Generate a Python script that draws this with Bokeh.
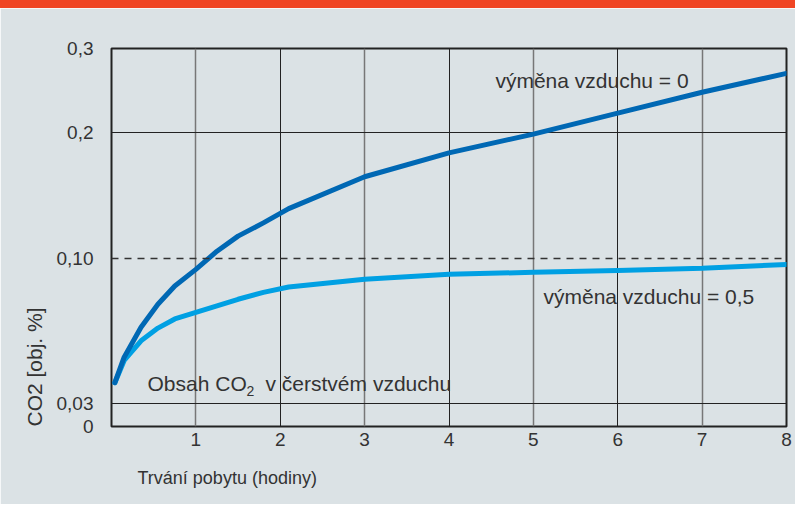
import numpy as np
from bokeh.plotting import figure
from bokeh.models import Range1d, FixedTicker, Grid, Span, Label, Div, Title
from bokeh.layouts import column
from bokeh.embed import file_html
from bokeh.resources import INLINE

# ---- data ----
hours = [0.04, 0.15, 0.35, 0.55, 0.75, 1.0, 1.25, 1.5, 1.8, 2.1, 3, 4, 5, 6, 7, 8]
co2_exchange_0 = [0.0401, 0.0524, 0.0668, 0.0779, 0.0867, 0.0947, 0.1057, 0.1176,
                  0.1281, 0.1394, 0.1646, 0.1835, 0.1984, 0.2226, 0.2476, 0.2702]
co2_exchange_05 = [0.0401, 0.0508, 0.0603, 0.0664, 0.0708, 0.0740, 0.0771, 0.0803,
                   0.0836, 0.0862, 0.0899, 0.0923, 0.0933, 0.0942, 0.0952, 0.0971]
x_ticks = [1, 2, 3, 4, 5, 6, 7, 8]
y_tick_values = [0, 0.03, 0.10, 0.2, 0.3]
y_tick_labels = ["0", "0,03", "0,10", "0,2", "0,3"]
fresh_air_co2 = 0.03
limit_co2 = 0.10

# nonlinear vertical scale of the original chart (value -> axis position)
y_scale_pos = [0, 23, 169, 296, 380]


def to_pos(v):
    return np.interp(v, y_tick_values, y_scale_pos)


FONT = "Liberation Sans"
TXT = "#333333"
BG = "#dbe2e5"
ORANGE = "#f04524"

header = Div(text="", width=795, height=8, margin=0,
             styles={"background-color": ORANGE, "width": "795px", "height": "8px"})

p = figure(width=795, height=496, output_backend="svg", toolbar_location=None,
           x_range=Range1d(0, 8), y_range=Range1d(0, y_scale_pos[-1]),
           background_fill_color=BG, border_fill_color=BG,
           min_border_left=111, min_border_right=9, min_border_top=40, min_border_bottom=76)

p.outline_line_color = "#222222"
p.outline_line_width = 2
p.xgrid.visible = False
p.ygrid.visible = False

# vertical grid lines: odd hours lighter, even hours darker
p.add_layout(Grid(dimension=0, ticker=FixedTicker(ticks=[t for t in x_ticks if t % 2 == 1]),
                  grid_line_color="#777777", grid_line_width=1.5))
p.add_layout(Grid(dimension=0, ticker=FixedTicker(ticks=[t for t in x_ticks if t % 2 == 0]),
                  grid_line_color="#222222", grid_line_width=1))
# horizontal lines at 0,03 and 0,2
p.add_layout(Grid(dimension=1, ticker=FixedTicker(ticks=[float(to_pos(fresh_air_co2)), float(to_pos(0.2))]),
                  grid_line_color="#222222", grid_line_width=1))
p.add_layout(Span(location=float(to_pos(limit_co2)), dimension="width", line_color="#333333",
                  line_width=1.5, line_dash="7 6"))

# axes
p.xaxis.ticker = FixedTicker(ticks=x_ticks)
p.yaxis.ticker = FixedTicker(ticks=[int(to_pos(v)) for v in y_tick_values])
p.yaxis.major_label_overrides = {int(to_pos(v)): lab for v, lab in zip(y_tick_values, y_tick_labels)}
for ax in (p.xaxis[0], p.yaxis[0]):
    ax.axis_line_color = None
    ax.major_tick_line_color = None
    ax.minor_tick_line_color = None
    ax.major_label_text_font = FONT
    ax.major_label_text_font_size = "19px"
    ax.major_label_text_color = TXT
p.xaxis.major_label_standoff = 0
p.yaxis.major_label_standoff = 12

# curves
p.line(hours, to_pos(co2_exchange_05), line_color="#00a0e3", line_width=5, line_cap="round",
       line_join="round")
p.line(hours, to_pos(co2_exchange_0), line_color="#0068b4", line_width=5, line_cap="round",
       line_join="round")

# annotations
common = dict(text_font=FONT, text_color=TXT, text_baseline="middle")
p.add_layout(Label(x=4.55, y=float(to_pos(0.262)), text="výměna vzduchu = 0", text_font_size="21px", **common))
p.add_layout(Label(x=5.12, y=float(to_pos(0.0818)), text="výměna vzduchu = 0,5", text_font_size="21px", **common))
fy = float(to_pos(0.0396))
p.add_layout(Label(x=0.427, y=fy, text="Obsah CO", text_font_size="21px", **common))
p.add_layout(Label(x=0.427, y=fy, x_offset=99, y_offset=-7, text="2", text_font_size="14px", **common))
p.add_layout(Label(x=0.427, y=fy, x_offset=118, text="v čerstvém vzduchu", text_font_size="21px", **common))

# axis titles placed like the original (start-aligned, as titles in side panels)
p.add_layout(Title(text="Trvání pobytu (hodiny)", align="left", offset=26, standoff=34,
                   text_font=FONT, text_font_size="18px", text_font_style="normal",
                   text_color=TXT), "below")
p.add_layout(Title(text="CO2 [obj. %]", align="left", offset=0, standoff=15,
                   text_font=FONT, text_font_size="21px", text_font_style="normal",
                   text_color=TXT), "left")

layout = column(header, p, spacing=0)
open("out.html", "w").write(file_html(layout, INLINE))
